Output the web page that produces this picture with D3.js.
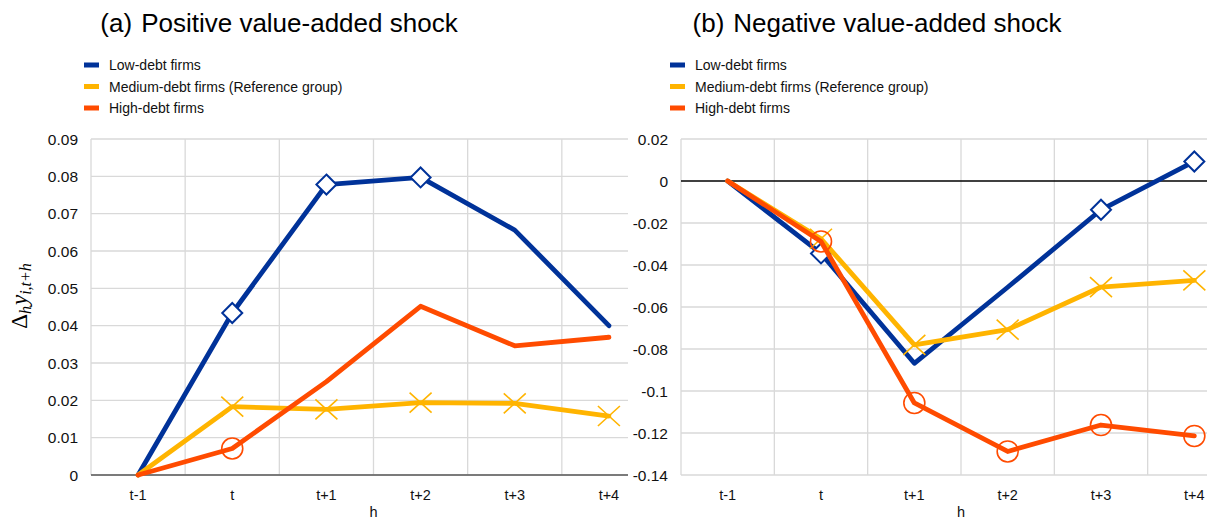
<!DOCTYPE html>
<html>
<head>
<meta charset="utf-8">
<script src="https://cdn.jsdelivr.net/npm/d3@7"></script>
<style>
    body { margin: 0; background: #fff; }
    svg { display: block; font-family: "Liberation Sans", Arial, sans-serif; }
</style>
</head>
<body>
<svg id="chart" width="1215" height="523"></svg>
<script>
// Horizon labels
const categories = ["t-1", "t", "t+1", "t+2", "t+3", "t+4"];

const seriesNames = ["Low-debt firms", "Medium-debt firms (Reference group)", "High-debt firms"];

// (a) positive shock
const posLow = [0, 0.0434, 0.0778, 0.0797, 0.0656, 0.0400];
const posMedium = [0, 0.0183, 0.0176, 0.0194, 0.0192, 0.0158];
const posHigh = [0, 0.0071, 0.0250, 0.0452, 0.0346, 0.0369];
// which points carry a marker
const posLowMarked = [0, 1, 1, 1, 0, 0];
const posMediumMarked = [0, 1, 1, 1, 1, 1];
const posHighMarked = [0, 1, 0, 0, 0, 0];

// (b) negative shock
const negLow = [0, -0.0345, -0.0868, -0.0506, -0.0137, 0.0093];
const negMedium = [0, -0.0275, -0.0780, -0.0708, -0.0505, -0.0473];
const negHigh = [0, -0.0288, -0.1057, -0.1288, -0.1162, -0.1214];
const negLowMarked = [0, 1, 0, 0, 1, 1];
const negMediumMarked = [0, 1, 1, 1, 1, 1];
const negHighMarked = [0, 1, 1, 1, 1, 1];

const posTicks = [0, 0.01, 0.02, 0.03, 0.04, 0.05, 0.06, 0.07, 0.08, 0.09];
const negTicks = [0.02, 0, -0.02, -0.04, -0.06, -0.08, -0.1, -0.12, -0.14];

const colors = ["#003299", "#ffb400", "#ff4b00"];
const markers = ["diamond", "cross", "circle"];

const plotTop = 139;
const plotBottom = 475;

const panels = [
    {
        id: "a", label: "(a)", title: "Positive value-added shock",
        left: 91, right: 656, clip: 628, titleX: 279, legendX: 84,
        domain: [0, 0.09], ticks: posTicks, zeroStyle: "axis",
        series: [[posLow, posLowMarked], [posMedium, posMediumMarked], [posHigh, posHighMarked]]
    },
    {
        id: "b", label: "(b)", title: "Negative value-added shock",
        left: 681, right: 1241, clip: 1207, titleX: 877, legendX: 670,
        domain: [-0.14, 0.02], ticks: negTicks, zeroStyle: "line",
        series: [[negLow, negLowMarked], [negMedium, negMediumMarked], [negHigh, negHighMarked]]
    }
];

const svg = d3.select("#chart");
const fmt = d => String(+d.toFixed(2));

function drawMarker(g, type, color) {
    if (type === "diamond") {
        g.append("path")
            .attr("d", "M0,-10L10,0L0,10L-10,0Z")
            .attr("fill", "#fff")
            .attr("stroke", color)
            .attr("stroke-width", 2);
    } else if (type === "cross") {
        g.append("path")
            .attr("d", "M-11,-10L11,10M-11,10L11,-10")
            .attr("stroke", color)
            .attr("stroke-width", 1.6);
    } else {
        g.append("circle")
            .attr("r", 10.5)
            .attr("fill", "none")
            .attr("stroke", color)
            .attr("stroke-width", 1.6);
    }
}

panels.forEach(p => {
    const x = d3.scaleBand()
        .domain(categories)
        .range([p.left, p.right])
        .padding(0);

    const y = d3.scaleLinear()
        .domain(p.domain)
        .range([plotBottom, plotTop]);

    const cx = d => x(d) + x.bandwidth() / 2;

    // clip to the visible part of the plot
    svg.append("clipPath")
        .attr("id", "clip-" + p.id)
        .append("rect")
        .attr("x", p.left - 2)
        .attr("y", 0)
        .attr("width", p.clip - p.left + 2)
        .attr("height", 523);

    const g = svg.append("g").attr("clip-path", `url(#clip-${p.id})`);

    // horizontal grid
    g.selectAll(".hgrid")
        .data(p.ticks.filter(t => t !== 0 || p.zeroStyle !== "line"))
        .enter()
        .append("line")
        .attr("x1", p.left)
        .attr("x2", p.clip)
        .attr("y1", d => y(d))
        .attr("y2", d => y(d))
        .attr("stroke", "#d9d9d9")
        .attr("stroke-width", 1.3);

    // vertical grid at category boundaries
    const bounds = categories.map(c => x(c)).concat([x.range()[1]]);
    g.selectAll(".vgrid")
        .data(bounds)
        .enter()
        .append("line")
        .attr("x1", d => d)
        .attr("x2", d => d)
        .attr("y1", plotTop)
        .attr("y2", plotBottom)
        .attr("stroke", "#d9d9d9")
        .attr("stroke-width", 1.3);

    // zero line
    if (p.zeroStyle === "axis") {
        g.append("line")
            .attr("x1", p.left).attr("x2", p.clip)
            .attr("y1", y(0)).attr("y2", y(0))
            .attr("stroke", "#595959")
            .attr("stroke-width", 1.6);
    } else {
        g.append("line")
            .attr("x1", p.left).attr("x2", p.clip)
            .attr("y1", y(0)).attr("y2", y(0))
            .attr("stroke", "#000")
            .attr("stroke-width", 1.3);
    }

    // y tick labels
    svg.selectAll(".ylab-" + p.id)
        .data(p.ticks)
        .enter()
        .append("text")
        .attr("x", p.left - 13)
        .attr("y", d => y(d) + 5.5)
        .attr("text-anchor", "end")
        .attr("font-size", 15.5)
        .attr("fill", "#111")
        .text(fmt);

    // x tick labels
    svg.selectAll(".xlab-" + p.id)
        .data(categories)
        .enter()
        .append("text")
        .attr("x", cx)
        .attr("y", 500)
        .attr("text-anchor", "middle")
        .attr("font-size", 14.5)
        .attr("fill", "#111")
        .text(d => d);

    svg.append("text")
        .attr("x", (p.left + p.right) / 2)
        .attr("y", 517)
        .attr("text-anchor", "middle")
        .attr("font-size", 14.5)
        .attr("fill", "#111")
        .text("h");

    // series
    const line = d3.line()
        .x((d, i) => cx(categories[i]))
        .y(d => y(d));

    p.series.forEach(([vals, marked], k) => {
        g.append("path")
            .datum(vals)
            .attr("fill", "none")
            .attr("stroke", colors[k])
            .attr("stroke-width", 4.8)
            .attr("stroke-linejoin", "round")
            .attr("stroke-linecap", "round")
            .attr("d", line);

        vals.forEach((v, i) => {
            if (!marked[i]) return;
            const m = g.append("g")
                .attr("transform", `translate(${cx(categories[i])},${y(v)})`);
            drawMarker(m, markers[k], colors[k]);
        });
    });

    // title
    const t = svg.append("text")
        .attr("x", p.titleX)
        .attr("y", 32)
        .attr("text-anchor", "middle")
        .attr("font-size", 26)
        .attr("fill", "#000");
    t.append("tspan").text(p.label);
    t.append("tspan").attr("dx", 9).text(p.title);

    // legend
    seriesNames.forEach((name, k) => {
        const ly = 65 + k * 21.5;
        svg.append("rect")
            .attr("x", p.legendX)
            .attr("y", ly - 2.5)
            .attr("width", 15)
            .attr("height", 5)
            .attr("fill", colors[k]);
        svg.append("text")
            .attr("x", p.legendX + 25)
            .attr("y", ly + 5)
            .attr("font-size", 14)
            .attr("fill", "#111")
            .text(name);
    });
});

// y axis title of panel (a)
const yt = svg.append("text")
    .attr("transform", "translate(27,296) rotate(-90)")
    .attr("text-anchor", "middle")
    .attr("font-family", "'Liberation Serif', 'DejaVu Serif', serif")
    .attr("font-size", 23)
    .attr("fill", "#000");
yt.append("tspan").text("Δ");
yt.append("tspan").attr("font-style", "italic").attr("font-size", 16).attr("dy", 4).text("h");
yt.append("tspan").attr("font-style", "italic").attr("dy", -4).attr("dx", 1).text("y");
yt.append("tspan").attr("font-style", "italic").attr("font-size", 16).attr("dy", 4).text("i,t+h");
</script>
</body>
</html>
